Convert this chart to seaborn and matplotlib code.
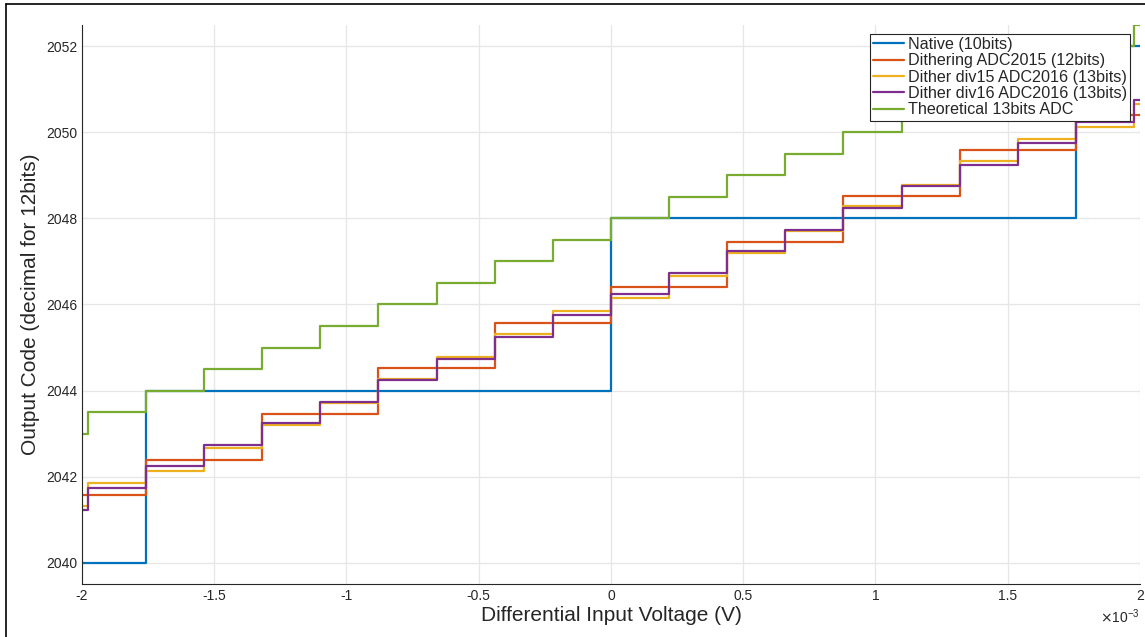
import numpy as np
import pandas as pd
import matplotlib
matplotlib.use("Agg")
import matplotlib.pyplot as plt
from matplotlib.lines import Line2D
from matplotlib.ticker import ScalarFormatter
import seaborn as sns

# ---------------- data (x edges in mV, codes in 12-bit decimal) ----------------
# 10-bit native converter: one code every 1.758 mV
native_edges = [-2.0, -1.758, 0.0, 1.758, 2.0]
native_codes = [2040, 2044, 2048, 2052]

# 12-bit dithered ADC2015: one code every 0.4395 mV
adc2015_edges = [-2.0, -1.758, -1.318, -0.879, -0.439, 0.0, 0.439, 0.879, 1.318, 1.758, 2.0]
adc2015_codes = [2041.58, 2042.40, 2043.46, 2044.53, 2045.58, 2046.40, 2047.45, 2048.53, 2049.58, 2050.40]

# 13-bit grid: one code every 0.2197 mV
lsb13_edges = [-2.0, -1.978, -1.758, -1.538, -1.318, -1.099, -0.879, -0.659, -0.439, -0.220, 0.0,
               0.220, 0.439, 0.659, 0.879, 1.099, 1.318, 1.538, 1.758, 1.978, 2.0]
div15_codes = [2041.32, 2041.85, 2042.14, 2042.66, 2043.20, 2043.72, 2044.28, 2044.79, 2045.32, 2045.84,
               2046.14, 2046.67, 2047.19, 2047.71, 2048.28, 2048.78, 2049.32, 2049.84, 2050.13, 2050.66]
div16_codes = [2041.23, 2041.75, 2042.25, 2042.74, 2043.24, 2043.73, 2044.25, 2044.74, 2045.24, 2045.75,
               2046.25, 2046.74, 2047.25, 2047.73, 2048.25, 2048.74, 2049.24, 2049.76, 2050.24, 2050.75]
theory_codes = [2043.0, 2043.5, 2044.0, 2044.5, 2045.0, 2045.5, 2046.0, 2046.5, 2047.0, 2047.5,
                2048.0, 2048.5, 2049.0, 2049.5, 2050.0, 2050.5, 2051.0, 2051.5, 2052.0, 2052.5]

series_names = ["Native (10bits)", "Dithering ADC2015 (12bits)", "Dither div15 ADC2016 (13bits)",
                "Dither div16 ADC2016 (13bits)", "Theoretical 13bits ADC"]
series_colors = ["#0072BD", "#D95319", "#EDB120", "#7E2F8E", "#77AC30"]

series = [(native_edges, native_codes), (adc2015_edges, adc2015_codes), (lsb13_edges, div15_codes),
          (lsb13_edges, div16_codes), (lsb13_edges, theory_codes)]

rows = []
for name, (edges, codes) in zip(series_names, series):
    vals = list(codes) + [codes[-1]]  # repeat last level so the step reaches the right edge
    for e, c in zip(edges, vals):
        rows.append({"v": e * 1e-3, "code": c, "series": name})
df = pd.DataFrame(rows)


class ShortSci(ScalarFormatter):
    # MATLAB style tick labels: -2, -1.5, ... with the x10^-3 multiplier kept
    def _set_format(self):
        self.format = "%1.10g"


# ---------------- plot ----------------
sns.set_style("white")
plt.rcParams["font.family"] = ["Liberation Sans", "DejaVu Sans"]
plt.rcParams["axes.unicode_minus"] = False

fig = plt.figure(figsize=(11.45, 6.37), dpi=100)
ax = fig.add_axes([0.0716, 0.0832, 0.924, 0.8776])

sns.lineplot(data=df, x="v", y="code", hue="series", hue_order=series_names,
             palette=series_colors, drawstyle="steps-post", estimator=None, sort=False,
             linewidth=1.6, ax=ax)

ax.set_xlim(-2e-3, 2e-3)
ax.set_ylim(2039.51, 2052.49)
ax.set_xticks(np.arange(-2e-3, 2.01e-3, 0.5e-3))
ax.set_yticks(np.arange(2040, 2053, 2))
fmt = ShortSci(useMathText=True)
fmt.set_powerlimits((-3, -3))
ax.xaxis.set_major_formatter(fmt)
ax.xaxis.get_offset_text().set_fontsize(10)
ax.xaxis.get_offset_text().set_color("#262626")

ax.grid(True, color="#e6e6e6", linewidth=0.9)
ax.set_axisbelow(True)
for s in ["top", "right"]:
    ax.spines[s].set_visible(False)
for s in ["left", "bottom"]:
    ax.spines[s].set_color("#262626")
    ax.spines[s].set_linewidth(0.8)
ax.tick_params(direction="in", length=6, width=0.8, color="#262626", labelsize=10, labelcolor="#262626")

ax.set_xlabel("Differential Input Voltage (V)", fontsize=15, color="#262626", labelpad=2)
ax.set_ylabel("Output Code (decimal for 12bits)", fontsize=15, color="#262626", labelpad=4)

leg = ax.get_legend()
handles = leg.legend_handles
labels = [t.get_text() for t in leg.texts]
leg.remove()
ax.legend(handles, labels, loc="upper right", bbox_to_anchor=(0.9905, 0.984), borderaxespad=0,
          fontsize=11.6, frameon=True, fancybox=False, framealpha=1, edgecolor="#262626",
          handlelength=1.9, handletextpad=0.25, labelspacing=0.08, borderpad=0.2)
ax.get_legend().get_frame().set_linewidth(0.8)

# outer frame of the screenshot (top and left edges)
fig.add_artist(Line2D([0.0052, 1.0], [0.9937, 0.9937], transform=fig.transFigure, color="black", linewidth=1.2))
fig.add_artist(Line2D([0.0052, 0.0052], [0.0, 0.9937], transform=fig.transFigure, color="black", linewidth=1.2))

fig.savefig("out.png", dpi=100)
